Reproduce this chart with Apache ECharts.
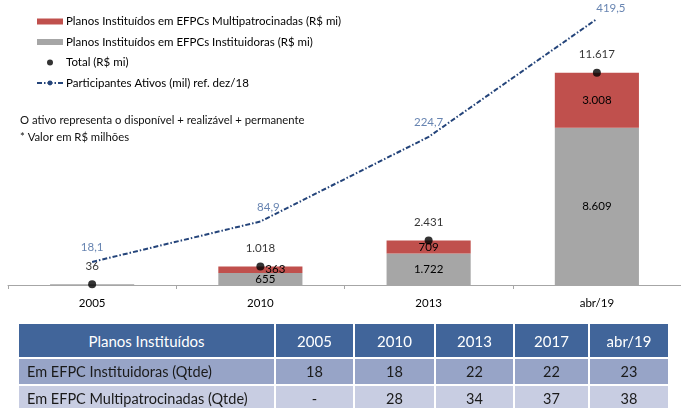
<!DOCTYPE html>
<html>
<head>
<meta charset="utf-8">
<script src="https://cdn.jsdelivr.net/npm/echarts@6/dist/echarts.min.js"></script>
<style>
html,body{margin:0;padding:0;background:#fff;width:681px;height:408px;overflow:hidden;}
#chart{position:absolute;left:0;top:0;width:681px;height:323px;}
#tbl{position:absolute;left:17px;top:322px;border-collapse:separate;border-spacing:2px;table-layout:fixed;font-family:Lato,"Open Sans",sans-serif;}
#tbl td{padding:0;text-align:center;color:#1a1a1a;font-size:14.5px;white-space:nowrap;overflow:hidden;}
#tbl tr.h td{background:#41659a;color:#fff;font-size:15px;height:33px;}
#tbl tr.r1 td{background:#97a4c7;height:25px;}
#tbl tr.r2 td{background:#c8cde2;height:25px;}
#tbl td.lbl{text-align:left;padding-left:8px;}
#tbl tr.h td.lbl{text-align:center;padding-left:0;}
</style>
</head>
<body>
<div id="chart"></div>
<table id="tbl"></table>
<script>
const categories = ['2005', '2010', '2013', 'abr/19'];
const instituidoras = [36, 655, 1722, 8609];
const multipatrocinadas = [0, 363, 709, 3008];
const totals = [36, 1018, 2431, 11617];
const participantes = [18.1, 84.9, 224.7, 419.5];

const tableHeader = ['Planos Instituídos', '2005', '2010', '2013', '2017', 'abr/19'];
const rowInstituidoras = ['Em EFPC Instituidoras (Qtde)', '18', '18', '22', '22', '23'];
const rowMultipatrocinadas = ['Em EFPC Multipatrocinadas (Qtde)', '-', '28', '34', '37', '38'];

const names = {
  multi: 'Planos Instituídos em EFPCs Multipatrocinadas (R$ mi)',
  inst: 'Planos Instituídos em EFPCs Instituidoras (R$ mi)',
  total: 'Total (R$ mi)',
  part: 'Participantes Ativos (mil) ref. dez/18'
};

function fmtInt(v) {
  return String(Math.round(v)).replace(/\B(?=(\d{3})+(?!\d))/g, '.');
}
function fmtDec(v) {
  return v.toFixed(1).replace('.', ',');
}

// table
const widths = [247, 77, 79, 77, 73, 78];
const tbl = document.getElementById('tbl');
[[tableHeader, 'h'], [rowInstituidoras, 'r1'], [rowMultipatrocinadas, 'r2']].forEach(([row, cls]) => {
  const tr = document.createElement('tr');
  tr.className = cls;
  row.forEach((t, i) => {
    const td = document.createElement('td');
    td.textContent = t;
    td.style.width = widths[i] + 'px';
    if (i === 0) td.className = 'lbl';
    tr.appendChild(td);
  });
  tbl.appendChild(tr);
});

const FONT = 'Lato, "Open Sans", sans-serif';
const lineLabelOffsets = [[0, 0], [8, 0], [0, 0], [14, 4]];
const multiLabelOffsets = [[0, 0], [15, 0], [0, 0], [0, 0]];
const instLabelOffsets = [[0, 0], [5, 0], [0, 0], [0, 0]];

const chart = echarts.init(document.getElementById('chart'), null, {renderer: 'canvas'});
chart.setOption({
  animation: false,
  textStyle: {fontFamily: FONT},
  grid: {left: 8, right: 0, top: 11, bottom: 38},
  legend: {
    orient: 'vertical',
    left: 31,
    top: 9,
    itemWidth: 26,
    itemHeight: 6,
    itemGap: 5.5,
    textStyle: {fontFamily: FONT, fontSize: 11.5, color: '#000', lineHeight: 15, padding: [0, 0, 0, -2]},
    data: [
      {name: names.multi, icon: 'rect'},
      {name: names.inst, icon: 'rect'},
      {name: names.total, icon: 'circle', itemStyle: {}},
      {name: names.part}
    ]
  },
  graphic: [
    {type: 'text', left: 20, top: 115, style: {text: 'O ativo representa o disponível + realizável + permanente', font: '11.3px ' + FONT, fill: '#111'}},
    {type: 'text', left: 20, top: 132, style: {text: '* Valor em R$ milhões', font: '11.3px ' + FONT, fill: '#111'}}
  ],
  xAxis: {
    type: 'category',
    data: categories,
    axisLine: {lineStyle: {color: '#a6a6a6', width: 1}},
    axisTick: {show: true, length: 4, lineStyle: {color: '#a6a6a6'}},
    axisLabel: {color: '#000', fontSize: 11.5, margin: 12, fontFamily: FONT}
  },
  yAxis: [
    {type: 'value', min: 0, max: 15000, show: false, splitLine: {show: false}},
    {type: 'value', min: -20, max: 432.6, show: false, splitLine: {show: false}}
  ],
  series: [
    {
      name: names.inst,
      type: 'bar',
      stack: 'a',
      barWidth: '50%',
      itemStyle: {color: '#a6a6a6'},
      label: {
        show: true, position: 'inside', color: '#000', fontSize: 11.5,
        formatter: p => p.value >= 100 ? fmtInt(p.value) : ''
      },
      data: instituidoras.map((v, i) => ({value: v, label: {offset: instLabelOffsets[i]}}))
    },
    {
      name: names.multi,
      type: 'bar',
      stack: 'a',
      barWidth: '50%',
      itemStyle: {color: '#c0504d'},
      label: {
        show: true, position: 'inside', color: '#000', fontSize: 11.5,
        formatter: p => p.value > 0 ? fmtInt(p.value) : ''
      },
      data: multipatrocinadas.map((v, i) => ({value: v, label: {offset: multiLabelOffsets[i]}}))
    },
    {
      name: names.total,
      type: 'scatter',
      symbol: 'circle',
      symbolSize: 8,
      itemStyle: {color: '#000'},
      label: {show: true, position: 'top', distance: 8, color: '#000', fontSize: 11.5, formatter: p => fmtInt(p.value)},
      data: totals,
      z: 5
    },
    {
      name: names.part,
      type: 'line',
      yAxisIndex: 1,
      symbol: 'none',
      lineStyle: {color: '#24447a', width: 2, type: [5, 2, 1.5, 2]},
      itemStyle: {color: '#24447a'},
      data: participantes,
      z: 4
    },
    {
      name: 'participantes-rotulos',
      type: 'scatter',
      yAxisIndex: 1,
      symbolSize: 1,
      itemStyle: {color: 'rgba(0,0,0,0)'},
      silent: true,
      label: {show: true, position: 'top', distance: 8, color: '#41659e', fontSize: 11.5, formatter: p => fmtDec(p.value)},
      data: participantes.map((v, i) => ({value: v, label: {offset: lineLabelOffsets[i]}})),
      z: 4
    }
  ]
});
</script>
</body>
</html>
